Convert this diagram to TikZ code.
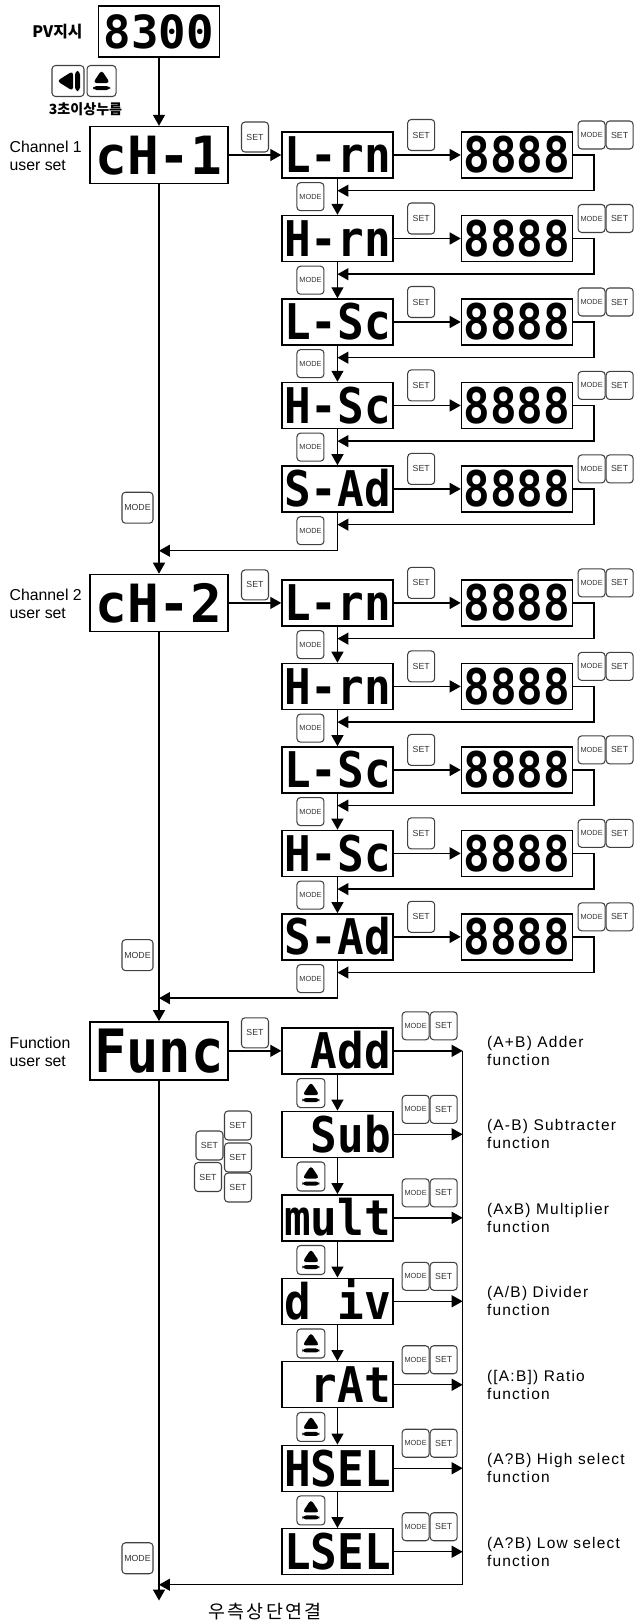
\documentclass[tikz,border=0pt]{standalone}
\usepackage{fontspec}
\setmainfont{Liberation Sans}
\newfontfamily\krfont{Noto Sans CJK KR}
\newfontfamily\krwide[LetterSpace=12]{Noto Sans CJK KR}
\newfontfamily\segfont[FakeStretch=0.9]{DejaVu Sans Mono}
\newfontfamily\segwide{DejaVu Sans Mono}
\newfontfamily\labfont[LetterSpace=8]{Liberation Sans}
\usetikzlibrary{arrows.meta, positioning, calc}
\tikzset{lcd/.style = {rectangle, draw=black, line width=0.8pt, inner sep=0pt, minimum width=2.22cm, minimum height=0.92cm, text height=20.4pt, text depth=0pt, font=\segfont\bfseries\fontsize{28}{28}\selectfont}}
\tikzset{chbox/.style = {lcd, minimum width=2.76cm, minimum height=1.14cm, text height=21.9pt, font=\segwide\bfseries\fontsize{30}{30}\selectfont}}
\tikzset{key/.style = {rectangle, rounded corners=0.07cm, draw=black!75, line width=0.6pt, inner sep=0pt, minimum width=0.54cm, minimum height=0.56cm, text=black!80, font=\fontsize{5}{5}\selectfont}}
\tikzset{modekey/.style = {key, font=\fontsize{4.2}{4.2}\selectfont}}
\tikzset{bigkey/.style = {key, minimum width=0.62cm, minimum height=0.62cm, font=\fontsize{5}{5}\selectfont}}
\tikzset{ejectkey/.style = {key, minimum width=0.56cm, minimum height=0.58cm, path picture={
	\fill ($(path picture bounding box.center)+(0,-11)$) -- ++(8.5,13) -- ++(-17,0) -- cycle;
	\fill ($(path picture bounding box.center)+(-8.5,5)$) rectangle ++(17,4);}}}
\tikzset{backkey/.style = {key, minimum width=0.64cm, minimum height=0.62cm, path picture={
	\fill ($(path picture bounding box.center)+(-11,0)$) -- ++(16,-10) -- ++(0,20) -- cycle;
	\fill ($(path picture bounding box.center)+(7,-10)$) rectangle ++(5,20);}}}
\tikzset{side/.style = {anchor=west, align=left, inner sep=0pt, font=\fontsize{9}{10.2}\selectfont}}
\tikzset{lab/.style = {anchor=west, align=left, inner sep=0pt, font=\labfont\fontsize{8.8}{10.2}\selectfont}}
\tikzset{arrow/.style = {line width=0.8pt, -{Triangle[length=0.22cm, width=0.24cm]}}}

\begin{document}
\begin{tikzpicture}[x=0.02cm, y=-0.02cm, node distance=1.67cm]
	\useasboundingbox (0,0) rectangle (633,1624);
	\node (pv) 		[chbox, minimum width=2.42cm, minimum height=1.02cm, text height=19pt, font=\segwide\bfseries\fontsize{26}{26}\selectfont] at (159,31.5) {8300};
	\node (pvtxt) 	[left=0.3cm of pv, inner sep=0pt, font=\krfont\bfseries\fontsize{9}{9}\selectfont] {PV지시};
	\node (lkey) 	[backkey] at (68,81) {};
	\node (ukey) 	[ejectkey, minimum width=0.58cm, minimum height=0.62cm, right=0.04cm of lkey] {};
	\node (hold) 	[inner sep=0pt, font=\krfont\bfseries\fontsize{8}{8}\selectfont] at ($(lkey.south east)!0.5!(ukey.south west)+(0,12)$) {3초이상누름};

	% channel 1
	\node (chA) 	[chbox] at (159,155) {cH-1};
	\node (chAtxt) 	[side] at ($(chA.west)+(-80,1)$) {Channel 1\\user set};
	\node (lrnA) 	[lcd, right of=chA, xshift=1.9cm] {L-rn};
	\node (hrnA) 	[lcd, below of=lrnA] {H-rn};
	\node (lscA) 	[lcd, below of=hrnA] {L-Sc};
	\node (hscA) 	[lcd, below of=lscA] {H-Sc};
	\node (sadA) 	[lcd, below of=hscA] {S-Ad};
	\node (setA) 	[key, minimum height=0.6cm] at ($(chA.east)!0.5!(lrnA.west)+(0,-18)$) {SET};

	% channel 2
	\node (chB) 	[chbox, below of=chA, yshift=-7.29cm] {cH-2};
	\node (chBtxt) 	[side] at ($(chB.west)+(-80,1)$) {Channel 2\\user set};
	\node (lrnB) 	[lcd, right of=chB, xshift=1.9cm] {L-rn};
	\node (hrnB) 	[lcd, below of=lrnB] {H-rn};
	\node (lscB) 	[lcd, below of=hrnB] {L-Sc};
	\node (hscB) 	[lcd, below of=lscB] {H-Sc};
	\node (sadB) 	[lcd, below of=hscB] {S-Ad};
	\node (setB) 	[key, minimum height=0.6cm] at ($(chB.east)!0.5!(lrnB.west)+(0,-18)$) {SET};

	\foreach \r in {lrnA,hrnA,lscA,hscA,sadA,lrnB,hrnB,lscB,hscB,sadB}{
		\node (num\r) 	[lcd, right of=\r, xshift=1.92cm] {8888};
		\node (set\r) 	[key, minimum height=0.62cm] at ($(\r.east)!0.5!(num\r.west)+(-6,-20)$) {SET};
		\node (mode\r) 	[modekey] at ($(num\r.east)+(18.5,-20)$) {MODE};
		\node (ok\r) 	[key, right=0pt of mode\r] {SET};
		\node (next\r) 	[modekey] at ($(\r.south)+(-27,18)$) {MODE};
		\draw [arrow] (\r) -- (num\r);
		\draw [arrow] (num\r.east) -- ++(21,0) |- ($(\r.south)+(0,12)$);
	}
	\foreach \a/\b in {lrnA/hrnA, hrnA/lscA, lscA/hscA, hscA/sadA, lrnB/hrnB, hrnB/lscB, lscB/hscB, hscB/sadB}
		\draw [arrow] (\a) -- (\b);

	% function
	\node (fn) 		[chbox, below of=chB, yshift=-7.29cm, minimum height=1.16cm, text height=24.8pt, font=\segfont\bfseries\fontsize{34}{34}\selectfont] {Func};
	\node (fntxt) 	[side] at ($(fn.west)+(-80,1)$) {Function\\user set};
	\node (add) 	[lcd, right of=fn, xshift=1.9cm] {~Add};
	\node (sub) 	[lcd, below of=add] {~Sub};
	\node (mul) 	[lcd, below of=sub] {mult};
	\node (div) 	[lcd, below of=mul] {d~iv};
	\node (rat) 	[lcd, below of=div] {~rAt};
	\node (hsel) 	[lcd, below of=rat] {HSEL};
	\node (lsel) 	[lcd, below of=hsel] {LSEL};
	\node (setF) 	[key, minimum height=0.6cm] at ($(fn.east)!0.5!(add.west)+(0,-18)$) {SET};
	\coordinate (rtop) at ($(add.east)+(69,0)$);
	\coordinate (rbot) at ($(lsel.east)+(69,33)$);

	\foreach \r/\t in {add/{(A+B) Adder}, sub/{(A-B) Subtracter}, mul/{(AxB) Multiplier}, div/{(A/B) Divider}, rat/{([A:B]) Ratio}, hsel/{(A?B) High select}, lsel/{(A?B) Low select}}{
		\node (ms\r) 	[modekey] at ($(\r.east)+(22,-25)$) {MODE};
		\node (ok\r) 	[key, right=0pt of ms\r] {SET};
		\draw [arrow] (\r) -- (\r -| rtop);
		\node (txt\r) 	[lab] at ($(\r -| rtop)+(24,0)$) {\t\\function};
	}
	\foreach \a/\b in {add/sub, sub/mul, mul/div, div/rat, rat/hsel, hsel/lsel}{
		\draw [arrow] (\a) -- (\b);
		\node (up\a) 	[ejectkey] at ($(\a.south)+(-26.5,18.5)$) {};
	}
	\foreach \p [count=\i] in {(238,1125.5), (209.5,1145.5), (238,1157.5), (208,1177), (238,1187.5)}
		\node (grp\i) [key, minimum height=0.58cm] at \p {SET};

	% main line
	\draw [arrow] (pv) -- (chA);
	\draw [arrow] (chA) -- (chB);
	\draw [arrow] (chB) -- (fn);
	\draw [arrow] (chA) -- (lrnA);
	\draw [arrow] (chB) -- (lrnB);
	\draw [arrow] (fn) -- (add);
	\draw [arrow] (sadA.south) |- ($(chB.north)+(0,-23)$);
	\draw [arrow] (sadB.south) |- ($(fn.north)+(0,-23)$);
	\draw (rtop) -- (rbot);
	\draw [arrow] (rbot) -- (rbot -| fn);
	\draw [arrow] (fn.south) -- ++(0,520) coordinate (fend);
	\node (modeA) 	[bigkey] at ($(chB.north)+(-21.5,-66)$) {MODE};
	\node (modeB) 	[bigkey] at ($(fn.north)+(-21.5,-66)$) {MODE};
	\node (modeF) 	[bigkey] at ($(rbot -| fn)+(-21.5,-26.5)$) {MODE};
	\node (link) 	[inner sep=0pt, font=\krwide\fontsize{10.5}{10.5}\selectfont] at ($(fend)+(106,11)$) {우측상단연결};
\end{tikzpicture}
\end{document}
